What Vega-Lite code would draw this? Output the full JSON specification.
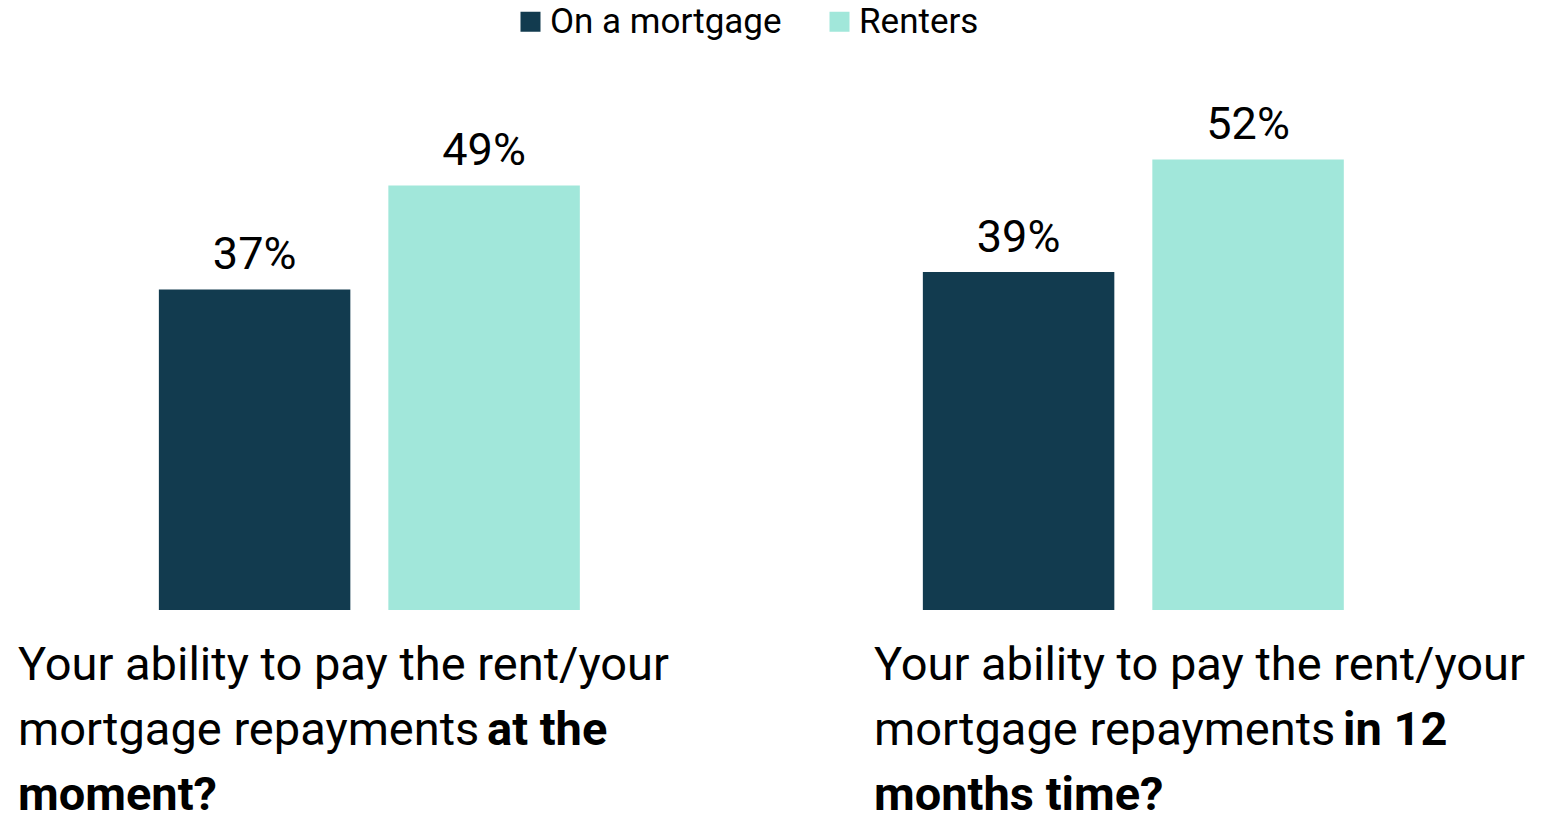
{
  "$schema": "https://vega.github.io/schema/vega-lite/v6.json",
  "padding": 0,
  "spacing": 0,
  "background": "white",
  "config": {"view": {"stroke": null}},
  "resolve": {"scale": {"x": "independent", "y": "independent"}},
  "vconcat": [
    {
      "width": 1557,
      "height": 610,
      "data": {
        "values": [
          {"question": "now", "group": "On a mortgage", "value": 37},
          {"question": "now", "group": "Renters", "value": 49},
          {"question": "12m", "group": "On a mortgage", "value": 39},
          {"question": "12m", "group": "Renters", "value": 52}
        ]
      },
      "transform": [{"calculate": "datum.value + '%'", "as": "label"}],
      "encoding": {
        "x": {
          "field": "question", "type": "nominal", "sort": ["now", "12m"], "axis": null,
          "scale": {"type": "band", "paddingInner": 0.449, "paddingOuter": 0.2435, "align": 0.427}
        },
        "xOffset": {
          "field": "group", "type": "nominal", "sort": ["On a mortgage", "Renters"],
          "scale": {"type": "band", "paddingInner": 0.1656, "paddingOuter": 0}
        },
        "y": {"field": "value", "type": "quantitative", "axis": null, "scale": {"domain": [0, 70.4], "nice": false}}
      },
      "layer": [
        {
          "mark": {"type": "bar"},
          "encoding": {
            "color": {
              "field": "group", "type": "nominal",
              "scale": {"domain": ["On a mortgage", "Renters"], "range": ["#123B4F", "#A1E7DA"]},
              "legend": {
                "orient": "none", "legendX": 513, "legendY": 4, "direction": "horizontal", "padding": 0,
                "title": null, "symbolType": "square", "symbolSize": 400, "symbolStrokeWidth": 0,
                "labelFontSize": 35, "labelFont": "Roboto", "labelColor": "#000", "labelOffset": 2,
                "labelLimit": 500, "columnPadding": 40
              }
            }
          }
        },
        {
          "mark": {"type": "text", "baseline": "alphabetic", "dy": -20, "fontSize": 45, "font": "Roboto", "color": "#000"},
          "encoding": {"text": {"field": "label", "type": "nominal"}}
        }
      ]
    },
    {
      "width": 1557,
      "height": 206,
      "data": {
        "values": [
          {"question": "now", "line": 1, "part": "regular", "text": "Your ability to pay the rent/your"},
          {"question": "now", "line": 2, "part": "regular", "text": "mortgage repayments"},
          {"question": "now", "line": 2, "part": "boldafter", "text": "at the"},
          {"question": "now", "line": 3, "part": "bold", "text": "moment?"},
          {"question": "12m", "line": 1, "part": "regular", "text": "Your ability to pay the rent/your"},
          {"question": "12m", "line": 2, "part": "regular", "text": "mortgage repayments"},
          {"question": "12m", "line": 2, "part": "boldafter", "text": "in 12"},
          {"question": "12m", "line": 3, "part": "bold", "text": "months time?"}
        ]
      },
      "encoding": {
        "x": {
          "field": "question", "type": "nominal", "sort": ["now", "12m"], "axis": null, "bandPosition": 0,
          "scale": {"type": "band", "paddingInner": 0.2231, "paddingOuter": 0.021, "align": 0.5}
        },
        "y": {
          "field": "line", "type": "quantitative", "axis": null,
          "scale": {"domain": [-0.0769, 3.092], "nice": false, "zero": false, "reverse": true}
        },
        "text": {"field": "text", "type": "nominal"}
      },
      "layer": [
        {
          "transform": [{"filter": "datum.part === 'regular'"}],
          "mark": {"type": "text", "align": "left", "baseline": "alphabetic", "fontSize": 47, "font": "Roboto", "color": "#000"}
        },
        {
          "transform": [{"filter": "datum.part === 'boldafter'"}],
          "mark": {"type": "text", "align": "left", "baseline": "alphabetic", "fontSize": 47, "font": "Roboto", "fontWeight": "bold", "color": "#000", "dx": 469}
        },
        {
          "transform": [{"filter": "datum.part === 'bold'"}],
          "mark": {"type": "text", "align": "left", "baseline": "alphabetic", "fontSize": 47, "font": "Roboto", "fontWeight": "bold", "color": "#000"}
        }
      ]
    }
  ]
}
